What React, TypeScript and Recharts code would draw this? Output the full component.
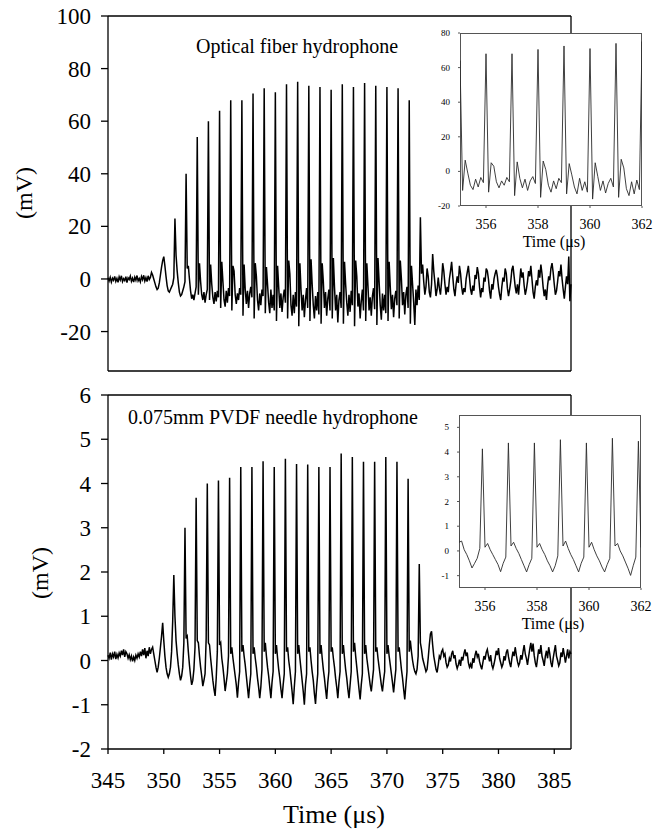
import { LineChart, Line, XAxis, YAxis } from "recharts";

// sampling grid of the scope trace (µs)
const T0 = 345;
const DT = 0.1;

// optical fiber hydrophone, mV, one row per µs
const fiberMv = [
  0.5, -0.8, 0.6, -1.2, 0.3, -0.5, 1.0, -0.9, 0.2, -1.3,
  0.8, -0.4, 1.2, -1.0, 0.1, -0.6, 0.9, -1.4, 0.4, -0.2,
  1.1, -0.9, 0.3, -1.2, 0.7, -0.5, 1.3, -0.7, 0.2, -1.1,
  0.9, -0.3, 1.4, -0.8, 0.5, -1.0, 1.2, -0.2, 0.6, 2.5,
  1.5, 0.0, -1.5, -3.0, -4.0, -3.5, -1.5, 1.5, 4.5, 7.0,
  8.5, 5.0, 1.0, -2.5, -4.5, -5.0, -4.0, -3.0, -2.0, 0.5,
  23, 9.0, 3.0, -1.5, -5.0, -6.5, -6.0, -4.5, -3.0, -1.0,
  40, 4.0, 5.0, 0.0, -4.5, -7.5, -6.0, -8.0, -5.5, -3.0,
  54, -6, 6.0, -1.0, -6.0, -8.0, -5.0, -9.0, -6.0, -4.0,
  60, -8, 5.5, -2.0, -7.0, -9.5, -5.0, -8.5, -4.5, -7.0,
  64, -11, 6.5, -1.0, -8.0, -10.5, -4.5, -9.0, -3.5, -6.5,
  68, -12, 5.0, 3.0, -6.0, -9.5, -5.5, -8.0, -3.5, -6.0,
  68, -14, 5.5, -4.0, -9.5, -4.5, -11.0, -5.5, -3.0, -7.0,
  70.5, -15, 6.0, 1.0, -8.0, -12.0, -5.5, -10.0, -4.0, -6.5,
  72.5, -13, 4.5, -2.0, -9.0, -13.0, -4.0, -11.0, -6.0, -12.0,
  71, -16, 5.0, -3.0, -11.0, -5.5, -12.5, -7.0, -4.0, -9.0,
  74, -15, 7.0, 2.0, -10.0, -14.0, -6.0, -13.0, -5.0, -10.5,
  75, -18, 6.0, -4.0, -12.0, -6.0, -14.5, -8.0, -3.5, -11.0,
  73.5, -16, 7.5, -2.0, -10.0, -15.0, -6.5, -12.0, -5.0, -13.5,
  73, -17, 6.0, -1.0, -11.0, -5.0, -14.0, -7.5, -4.0, -12.0,
  72, -15, 8.0, -3.0, -12.0, -6.0, -16.5, -8.0, -5.0, -11.0,
  74, -17, 6.5, -2.0, -9.0, -14.0, -6.0, -12.5, -4.5, -10.0,
  73, -18, 7.0, 1.0, -10.5, -5.5, -15.0, -8.5, -4.0, -12.0,
  74.5, -16, 6.0, -2.5, -12.0, -7.0, -14.0, -6.5, -3.5, -11.5,
  73.5, -17.5, 8.0, -1.0, -10.0, -15.5, -5.5, -12.0, -6.0, -13.0,
  73, -16, 6.5, -3.0, -11.5, -6.0, -14.5, -7.5, -4.5, -10.0,
  72.5, -15, 7.0, 0.0, -10.0, -5.0, -13.5, -6.0, -3.0, -11.0,
  68, -17, 5.0, -2.0, -9.0, -17.5, -4.0, -10.0, -2.5, -8.0,
  23.5, 2.0, 5.5, -1.0, -6.0, -3.0, 4.0, 1.0, -5.0, -7.0,
  -2.0, 9.5, 3.0, -1.5, -6.5, -4.0, 0.5, -3.5, -6.0, -1.0,
  6.0, 3.0, -2.0, -6.0, -3.0, -5.0, 0.0, 3.0, 6.5, 1.0,
  -4.0, -6.5, -2.0, 1.0, -1.5, 5.0, 2.0, -3.0, -6.0, -3.5,
  -5.0, 0.0, 2.5, 5.0, 0.5, -4.0, -6.0, -2.5, -4.5, 1.5,
  0.0, 4.5, 2.0, -3.0, -7.0, -3.5, -5.0, 0.5, -1.0, 4.0,
  3.0, 0.0, -4.5, -7.5, -2.0, -4.0, 0.0, 2.0, 3.5, 1.0,
  -3.0, -6.0, -8.0, -3.0, 0.5, -1.0, 4.0, 2.0, -3.5, -6.5,
  -4.0, -1.0, 3.5, 5.0, 1.0, -3.0, -5.5, -2.0, -6.0, -1.0,
  4.0, 0.5, 2.5, -2.5, -6.0, -4.0, -1.0, 3.0, 1.0, 5.0,
  0.0, -5.0, -7.5, -3.0, -0.5, -2.5, 3.5, 0.5, 5.5, 2.0,
  -3.0, -6.5, -4.0, -8.0, -2.5, 1.0, -0.5, 4.0, 6.0, 2.5,
  -2.0, -6.0, -4.5, -1.0, 3.0, 1.0, 5.5, 0.0, -4.0, -7.5,
  -3.0, 1.0, -2.0, 8.5, -8.5, -2.0,
];

// 0.075mm PVDF needle hydrophone, mV, one row per µs
const pvdfMv = [
  0.12, 0.05, 0.18, 0.02, 0.15, 0.08, 0.2, 0.03, 0.14, 0.06,
  0.17, 0.1, 0.22, 0.12, 0.25, 0.08, 0.2, 0.15, 0.05, 0.13,
  0.02, 0.1, -0.02, 0.08, 0.0, 0.12, 0.05, 0.15, 0.08, 0.2,
  0.1, 0.25, 0.12, 0.28, 0.05, 0.22, 0.1, 0.3, 0.15, 0.25,
  0.3, 0.15, 0.0, -0.15, -0.27, -0.15, 0.05, 0.3, 0.55, 0.85,
  0.45, 0.1, -0.15, -0.3, -0.38, -0.3, -0.15, 0.2, 0.9, 1.93,
  1.0, 0.45, 0.15, -0.1, -0.3, -0.45, -0.35, -0.15, 0.4, 3.0,
  0.5, 0.55, 0.2, -0.1, -0.35, -0.55, -0.45, -0.2, 0.3, 3.68,
  0.45, 0.4, 0.1, -0.15, -0.35, -0.58, -0.45, -0.3, 0.5, 4.0,
  0.4, 0.35, 0.05, -0.2, -0.45, -0.65, -0.8, -0.4, 0.2, 4.07,
  0.35, 0.4, 0.05, -0.15, -0.4, -0.69, -0.5, -0.3, 0.1, 4.13,
  0.15, 0.3, 0.05, -0.15, -0.35, -0.55, -0.84, -0.5, -0.25, 4.37,
  0.2, 0.35, 0.1, -0.1, -0.35, -0.6, -0.85, -0.55, -0.3, 4.37,
  0.15, 0.3, 0.05, -0.15, -0.4, -0.6, -0.85, -0.6, -0.2, 4.5,
  0.2, 0.4, 0.1, -0.15, -0.35, -0.6, -0.85, -0.5, -0.25, 4.37,
  0.15, 0.35, 0.05, -0.2, -0.4, -0.65, -0.85, -0.55, -0.3, 4.56,
  0.2, 0.3, 0.0, -0.2, -0.45, -0.7, -0.99, -0.6, -0.25, 4.44,
  0.15, 0.35, 0.05, -0.2, -0.45, -0.7, -1.0, -0.55, -0.3, 4.43,
  0.2, 0.3, 0.0, -0.25, -0.45, -0.75, -0.98, -0.6, -0.3, 4.37,
  0.15, 0.35, 0.05, -0.2, -0.4, -0.65, -0.87, -0.5, -0.25, 4.37,
  0.2, 0.3, 0.05, -0.15, -0.4, -0.6, -0.85, -0.5, -0.25, 4.68,
  0.15, 0.35, 0.05, -0.2, -0.4, -0.65, -0.85, -0.55, -0.25, 4.6,
  0.2, 0.4, 0.1, -0.15, -0.4, -0.65, -0.88, -0.55, -0.3, 4.49,
  0.15, 0.35, 0.05, -0.15, -0.35, -0.55, -0.7, -0.45, -0.2, 4.49,
  0.2, 0.3, 0.05, -0.15, -0.35, -0.55, -0.7, -0.45, -0.25, 4.6,
  0.15, 0.35, 0.1, -0.1, -0.3, -0.5, -0.72, -0.45, -0.2, 4.49,
  0.2, 0.3, 0.05, -0.2, -0.4, -0.65, -0.88, -0.55, -0.25, 4.11,
  0.2, 0.45, 0.2, 0.0, -0.15, -0.25, -0.3, -0.2, 0.1, 2.18,
  0.4, 0.25, 0.05, -0.05, -0.15, -0.25, -0.2, 0.05, 0.35, 0.6,
  0.66, 0.35, 0.1, -0.05, -0.2, -0.27, -0.1, 0.1, 0.05, 0.2,
  0.25, 0.1, 0.15, -0.05, -0.15, -0.1, 0.05, -0.02, 0.15, 0.22,
  0.05, 0.12, -0.08, -0.18, -0.1, 0.02, -0.12, 0.08, 0.0, 0.15,
  0.25, 0.1, 0.18, -0.05, -0.15, -0.08, -0.18, 0.05, -0.05, 0.12,
  0.22, 0.08, 0.15, -0.02, -0.12, -0.2, -0.05, 0.1, 0.02, 0.18,
  0.25, 0.1, -0.02, 0.12, -0.1, -0.18, -0.08, 0.05, 0.22, 0.12,
  0.28, 0.05, -0.05, -0.15, -0.08, 0.1, 0.0, 0.18, 0.25, 0.08,
  -0.05, -0.15, 0.05, 0.2, 0.1, 0.3, 0.12, -0.02, -0.12, -0.05,
  0.12, 0.02, 0.2, 0.35, 0.15, 0.05, -0.1, 0.08, 0.25, 0.4,
  0.2, 0.38, 0.12, -0.05, -0.15, 0.05, 0.25, 0.15, 0.35, 0.1,
  0.0, -0.12, 0.1, 0.22, 0.05, 0.3, 0.15, -0.05, -0.15, 0.05,
  0.2, 0.35, 0.1, 0.0, -0.12, -0.05, 0.18, 0.08, 0.28, 0.12,
  -0.05, 0.1, 0.25, 0.05, 0.2, 0.15,
];

const timeTicks = [345, 350, 355, 360, 365, 370, 375, 380, 385];
const fiberTicks = [-20, 0, 20, 40, 60, 80, 100];
const pvdfTicks = [-2, -1, 0, 1, 2, 3, 4, 5, 6];
const insetTimeTicks = [356, 358, 360, 362];
const fiberInsetTicks = [-20, 0, 20, 40, 60, 80];
const pvdfInsetTicks = [-1, 0, 1, 2, 3, 4, 5];

const data = fiberMv.map((v, i) => ({
  t: Math.round((T0 + i * DT) * 10) / 10,
  fiber: v,
  pvdf: pvdfMv[i],
}));
const insetData = data.filter((d) => d.t >= 354.9 && d.t <= 362.1);

const FONT = "'Liberation Serif', 'Times New Roman', serif";
const ax = { stroke: "#000", strokeWidth: 1.3 };

// tick renderer so the labels keep the serif face
const serifTick = (size: number, dy: number) => (p: any) => (
  <text x={p.x} y={p.y} dy={dy} textAnchor={p.textAnchor} fontSize={size} fontFamily={FONT} fill="#000">
    {p.payload.value}
  </text>
);
const yTick = serifTick(23, 8);
const xTick = serifTick(23, 16);
const insetYTick = serifTick(9, 3);
const insetXTick = serifTick(14, 10);

function Inset({
  left,
  top,
  dataKey,
  domain,
  ticks,
}: {
  left: number;
  top: number;
  dataKey: string;
  domain: [number, number];
  ticks: number[];
}) {
  return (
    <>
      <div
        style={{
          position: "absolute",
          left: left + 40,
          top: top + 10,
          width: 182,
          height: 173,
          background: "#fff",
          border: "1px solid #555",
          boxSizing: "border-box",
        }}
      />
      <div style={{ position: "absolute", left, top }}>
        <LineChart width={236} height={230} data={insetData} margin={{ top: 10, right: 14, bottom: 0, left: 0 }}>
          <XAxis
            dataKey="t"
            type="number"
            domain={[355, 362]}
            ticks={insetTimeTicks}
            allowDataOverflow
            height={47}
            axisLine={false}
            tickSize={2}
            tickLine={{ stroke: "#555" }}
            tickMargin={11}
            tick={insetXTick}
          />
          <YAxis
            type="number"
            domain={domain}
            ticks={ticks}
            allowDataOverflow
            width={40}
            axisLine={false}
            tickSize={2}
            tickLine={{ stroke: "#555" }}
            tickMargin={8}
            tick={insetYTick}
          />
          <Line dataKey={dataKey} stroke="#2a2a2a" strokeWidth={0.9} dot={false} isAnimationActive={false} />
          <text x={134} y={224} textAnchor="middle" fontSize={16} fontFamily={FONT} fill="#000">
            Time (μs)
          </text>
        </LineChart>
      </div>
    </>
  );
}

export default function App() {
  return (
    <div style={{ position: "absolute", left: 0, top: 0, width: 665, height: 830, background: "#fff", fontFamily: FONT }}>
      <div style={{ position: "absolute", left: 0, top: 0 }}>
        <LineChart width={665} height={380} data={data} margin={{ top: 15, right: 93, bottom: 0, left: 0 }}>
          <XAxis
            dataKey="t"
            type="number"
            domain={[345, 386.5]}
            ticks={timeTicks}
            height={9}
            axisLine={ax}
            tickLine={ax}
            tickSize={6}
            tick={false}
          />
          <XAxis xAxisId="top" orientation="top" dataKey="t" type="number" domain={[345, 386.5]} height={1} axisLine={ax} tickLine={false} tick={false} />
          <YAxis
            type="number"
            domain={[-35, 100]}
            ticks={fiberTicks}
            width={108}
            axisLine={ax}
            tickLine={ax}
            tickSize={7}
            tickMargin={10}
            tick={yTick}
          />
          <YAxis yAxisId="r" orientation="right" type="number" domain={[-35, 100]} width={1} axisLine={ax} tickLine={false} tick={false} />
          <Line xAxisId="top" yAxisId="r" dataKey="fiber" stroke="none" dot={false} isAnimationActive={false} />
          <Line dataKey="fiber" stroke="#000" strokeWidth={1.5} dot={false} isAnimationActive={false} />
          <text x={196} y={53} fontSize={20} fontFamily={FONT} fill="#000">
            Optical fiber hydrophone
          </text>
          <text x={32} y={193} transform="rotate(-90, 32, 193)" textAnchor="middle" fontSize={24} fontFamily={FONT} fill="#000">
            (mV)
          </text>
        </LineChart>
      </div>

      <div style={{ position: "absolute", left: 0, top: 380 }}>
        <LineChart width={665} height={450} data={data} margin={{ top: 14, right: 93, bottom: 0, left: 0 }}>
          <XAxis
            dataKey="t"
            type="number"
            domain={[345, 386.5]}
            ticks={timeTicks}
            height={81}
            axisLine={ax}
            tickLine={ax}
            tickSize={5}
            tickMargin={18}
            tick={xTick}
          />
          <XAxis
            xAxisId="top"
            orientation="top"
            dataKey="t"
            type="number"
            domain={[345, 386.5]}
            ticks={timeTicks}
            height={1}
            axisLine={ax}
            tickLine={ax}
            tickSize={-5}
            tick={false}
          />
          <YAxis
            type="number"
            domain={[-2, 6]}
            ticks={pvdfTicks}
            width={108}
            axisLine={ax}
            tickLine={ax}
            tickSize={7}
            tickMargin={10}
            tick={yTick}
          />
          <YAxis yAxisId="r" orientation="right" type="number" domain={[-2, 6]} width={1} axisLine={ax} tickLine={false} tick={false} />
          <Line xAxisId="top" yAxisId="r" dataKey="pvdf" stroke="none" dot={false} isAnimationActive={false} />
          <Line dataKey="pvdf" stroke="#000" strokeWidth={1.5} dot={false} isAnimationActive={false} />
          <text x={128} y={44} fontSize={20} fontFamily={FONT} fill="#000">
            0.075mm PVDF needle hydrophone
          </text>
          <text x={48} y={193} transform="rotate(-90, 48, 193)" textAnchor="middle" fontSize={24} fontFamily={FONT} fill="#000">
            (mV)
          </text>
          <text x={334} y={443} textAnchor="middle" fontSize={26} fontFamily={FONT} fill="#000">
            Time (μs)
          </text>
        </LineChart>
      </div>

      <Inset left={420} top={23} dataKey="fiber" domain={[-20, 80]} ticks={fiberInsetTicks} />
      <Inset left={419} top={405} dataKey="pvdf" domain={[-1.5, 5.5]} ticks={pvdfInsetTicks} />
    </div>
  );
}
